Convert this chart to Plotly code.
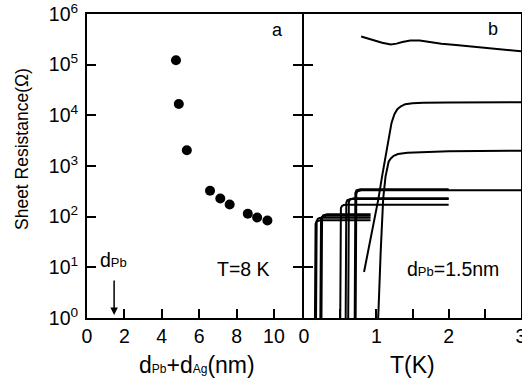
import plotly.graph_objects as go

# ---------------- data ----------------
# panel a: sheet resistance at T=8 K vs total thickness
thick_nm = [4.76, 4.91, 5.34, 6.58, 7.13, 7.63, 8.60, 9.10, 9.65]
rs_8k = [1.22e5, 1.67e4, 2040, 324, 229, 174, 114, 96, 84]

# panel b: R(T) curves
top_T = [0.79, 0.88, 0.97, 1.08, 1.20, 1.28, 1.36, 1.47, 1.60, 1.70, 1.90, 2.10, 2.35, 2.60, 2.80, 3.00]
top_R = [3.6e5, 3.3e5, 3.0e5, 2.7e5, 2.5e5, 2.6e5, 2.8e5, 3.0e5, 3.0e5, 2.85e5, 2.6e5, 2.45e5, 2.25e5, 2.08e5, 1.95e5, 1.83e5]

c2_T = [0.83, 0.90, 0.97, 1.03, 1.08, 1.12, 1.17, 1.21, 1.25, 1.29, 1.34, 1.40, 1.50, 1.65, 2.0, 2.5, 3.0]
c2_R = [8.1, 26, 85, 229, 630, 1410, 3550, 7080, 1.05e4, 1.32e4, 1.51e4, 1.66e4, 1.74e4, 1.78e4, 1.80e4, 1.82e4, 1.82e4]

c3_T = [1.015, 1.02, 1.03, 1.06, 1.095, 1.127, 1.15, 1.17, 1.20, 1.24, 1.30, 1.43, 2.0, 3.0]
c3_R = [0.5, 1.0, 1.41, 20, 229, 617, 955, 1216, 1413, 1585, 1718, 1820, 1950, 2000]

s1_T = [0.150, 0.150, 0.160, 0.175, 0.200, 0.230, 0.92]
s1_R = [0.5, 60, 72, 81, 84, 85, 85]
s2_T = [0.165, 0.165, 0.175, 0.190, 0.215, 0.245, 0.92]
s2_R = [0.5, 67, 81, 90, 94, 95, 95]
s3_T = [0.225, 0.225, 0.235, 0.250, 0.275, 0.305, 0.92]
s3_R = [0.5, 73, 88, 99, 103, 104, 104]
s4_T = [0.240, 0.240, 0.250, 0.265, 0.290, 0.320, 0.92]
s4_R = [0.5, 78, 95, 106, 110, 112, 112]

m1_T = [0.500, 0.500, 0.510, 0.525, 0.550, 0.580, 2.0]
m1_R = [0.5, 120, 146, 163, 170, 172, 172]
m2_T = [0.575, 0.575, 0.585, 0.600, 0.625, 0.655, 2.0]
m2_R = [0.5, 157, 190, 212, 221, 224, 224]
m3_T = [0.610, 0.610, 0.620, 0.635, 0.660, 0.690, 2.0]
m3_R = [0.5, 161, 196, 219, 227, 230, 230]
m4_T = [0.700, 0.700, 0.710, 0.725, 0.750, 0.780, 2.0]
m4_R = [0.5, 243, 295, 330, 343, 347, 347]
m5_T = [0.713, 0.713, 0.723, 0.738, 0.763, 0.793, 3.0]
m5_R = [0.5, 233, 283, 316, 329, 333, 333]

step_curves = [(s1_T, s1_R), (s2_T, s2_R), (s3_T, s3_R), (s4_T, s4_R),
               (m1_T, m1_R), (m2_T, m2_R), (m3_T, m3_R), (m4_T, m4_R), (m5_T, m5_R),
               (top_T, top_R), (c2_T, c2_R), (c3_T, c3_R)]

y_tickvals = [1, 10, 100, 1000, 1e4, 1e5, 1e6]
y_ticktext = ["10<sup>%d</sup>" % i for i in range(7)]
xa_tickvals = [0, 2, 4, 6, 8, 10]
xb_tickvals = [0, 0.5, 1, 1.5, 2, 2.5, 3]
xb_ticktext = ["0", "", "1", "", "2", "", "3"]

# ---------------- figure ----------------
FONT = "Liberation Sans, Arial, sans-serif"
fig = go.Figure()

fig.add_trace(go.Scatter(x=thick_nm, y=rs_8k, mode="markers",
                         marker=dict(color="black", size=10),
                         xaxis="x", yaxis="y", showlegend=False))

for T, R in step_curves:
    fig.add_trace(go.Scatter(x=T, y=R, mode="lines",
                             line=dict(color="black", width=2),
                             xaxis="x2", yaxis="y2", showlegend=False))

W = 434.0
H = 304.0
end_a = (302 - 87) / W
start_b = (304 - 87) / W
axis_common = dict(showgrid=False, zeroline=False, showline=True, linecolor="black",
                   linewidth=2, ticks="inside", ticklen=9, tickwidth=2, tickcolor="black",
                   ticklabeloverflow="allow", automargin=False,
                   tickfont=dict(family=FONT, size=19.5, color="black"))

fig.update_layout(
    width=522, height=382,
    margin=dict(l=87, r=1, t=14, b=64, autoexpand=False),
    plot_bgcolor="white", paper_bgcolor="white",
    font=dict(family=FONT, color="black"),
    hovermode=False,
    xaxis=dict(domain=[0, end_a], range=[0, 11.5], tickvals=xa_tickvals,
               anchor="y", mirror=True, **axis_common),
    yaxis=dict(type="log", range=[0, 6], tickvals=y_tickvals, ticktext=y_ticktext,
               anchor="x", mirror="ticks", ticklabelstandoff=3, **axis_common),
    xaxis2=dict(domain=[start_b, 1], range=[0, 3], tickvals=xb_tickvals, ticktext=xb_ticktext,
                anchor="y2", mirror=True, **axis_common),
    yaxis2=dict(type="log", range=[0, 6], tickvals=y_tickvals, showticklabels=False,
                anchor="x2", mirror=True, **axis_common),
)

def sub(s, size):
    return '<span style="font-size:%dpx">%s</span>' % (size, s)

txt = dict(family=FONT, size=18, color="black")
txt2 = dict(family=FONT, size=19.5, color="black")
title_font = dict(family=FONT, size=23, color="black")
ann = [
    dict(text="a", x=10.2, y=5.69, xref="x", yref="y", showarrow=False, font=txt),
    dict(text="b", x=2.61, y=5.71, xref="x2", yref="y2", showarrow=False, font=txt),
    dict(text="T=8 K", x=8.39, y=0.96, xref="x", yref="y", showarrow=False, font=txt2),
    dict(text="d" + sub("Pb", 13) + "=1.5nm", x=2.06, y=0.96, xref="x2", yref="y2",
         showarrow=False, font=txt2),
    dict(text="d" + sub("Pb", 13), x=1.42, y=1.14, xref="x", yref="y", showarrow=False, font=txt2),
    dict(text="", x=1.45, y=0.06, xref="x", yref="y", showarrow=True, ax=0, ay=-36,
         arrowhead=2, arrowsize=1, arrowwidth=1.5, arrowcolor="black"),
    dict(text="Sheet Resistance(Ω)", x=(22 - 87) / W, y=(318 - 149) / H,
         xref="paper", yref="paper", textangle=-90, showarrow=False,
         xanchor="center", yanchor="middle", font=dict(family=FONT, size=17.5, color="black")),
    dict(text="d" + sub("Pb", 12) + "+d" + sub("Ag", 12) + "(nm)", x=(197 - 87) / W,
         y=(318 - 365) / H, xref="paper", yref="paper", showarrow=False,
         xanchor="center", yanchor="middle", font=title_font),
    dict(text="T(K)", x=(412 - 87) / W, y=(318 - 365) / H,
         xref="paper", yref="paper", showarrow=False, xanchor="center", yanchor="middle",
         font=title_font),
]
fig.update_layout(annotations=ann)

# remove the default 8px page margin so the figure sits at the window's corner
fig.write_html("out.html", config={"displayModeBar": False, "staticPlot": True},
               post_script="document.body.style.margin='0';")
